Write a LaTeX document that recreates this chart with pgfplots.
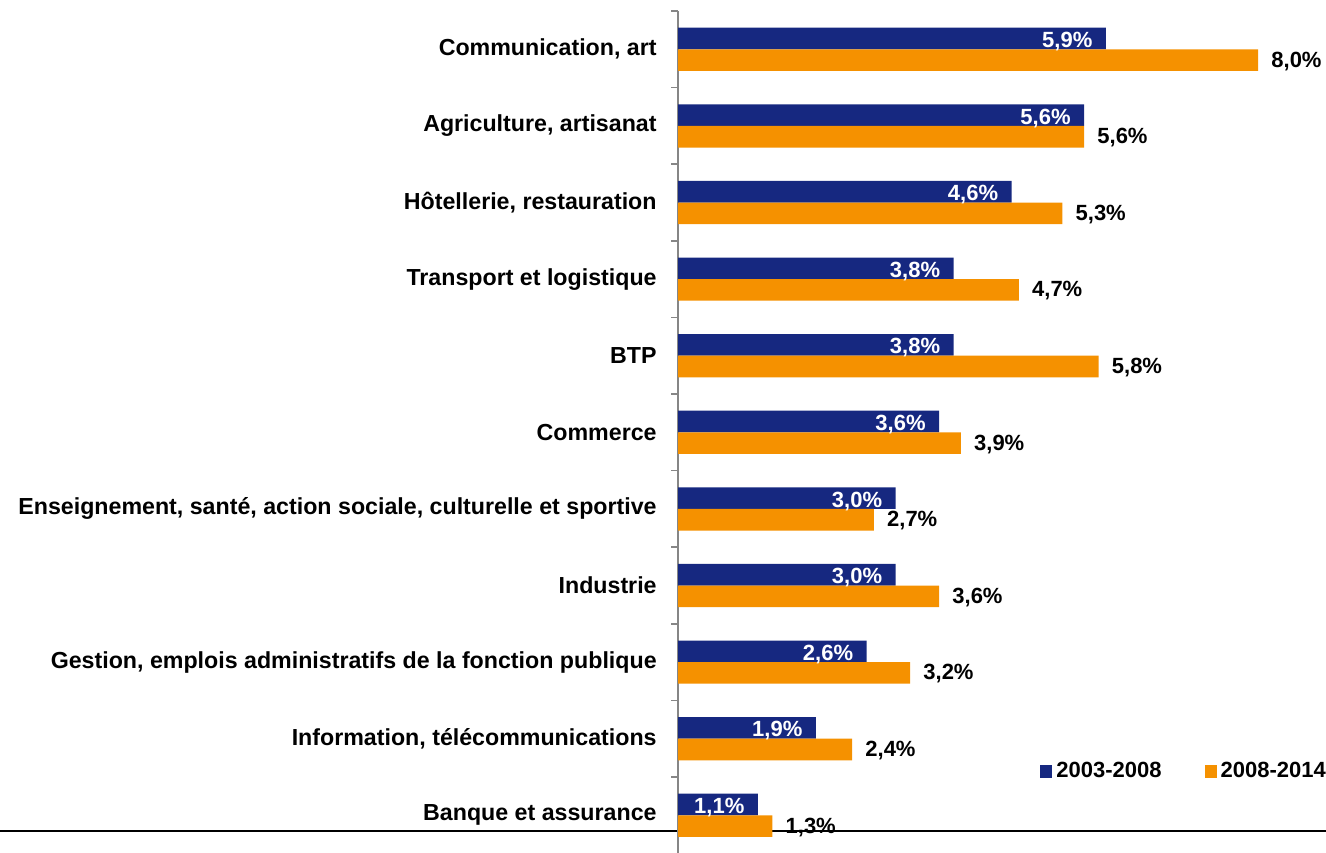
\documentclass[border=0pt]{standalone}
\usepackage{fontspec}
\setmainfont{Liberation Sans}
\usepackage{pgfplots}
\pgfplotsset{compat=1.18}
\definecolor{bblue}{RGB}{22,40,128}
\definecolor{borange}{RGB}{245,145,0}
\definecolor{axgray}{RGB}{134,134,134}
\begin{document}
\begin{tikzpicture}
\draw[black, line width=1pt] (0pt,10.65pt) -- (663pt,10.65pt);
\begin{axis}[
  scale only axis,
  at={(339pt,-0.8pt)}, anchor=south west,
  x=36.25pt, y=38.3pt,
  xmin=0, xmax=8.938,
  ymin=-0.5, ymax=10.5,
  y dir=reverse,
  axis x line=none,
  xtick=\empty,
  axis y line*=left,
  y axis line style={axgray, line width=0.75pt, -},
  ytick={0,...,10},
  yticklabels={{Communication, art},{Agriculture, artisanat},{Hôtellerie, restauration},{Transport et logistique},{BTP},{Commerce},{Enseignement, santé, action sociale, culturelle et sportive},{Industrie},{Gestion, emplois administratifs de la fonction publique},{Information, télécommunications},{Banque et assurance}},
  major tick length=0pt,
  tick align=outside,
  extra y ticks={-0.5,0.5,...,10.5},
  extra y tick labels={},
  extra y tick style={major tick length=3.5pt, tick style={axgray, line width=0.75pt}},
  yticklabel style={font=\bfseries\fontsize{11.6}{14}\selectfont, inner sep=0pt, xshift=-10.5pt},
  xbar, bar width=10.8pt,
  point meta=x,
  nodes near coords={\pgfmathprintnumber[fixed,fixed zerofill,precision=1,use comma,assume math mode=true]{\pgfplotspointmeta}\%},
  every node near coord/.append style={font=\bfseries\fontsize{11}{13}\selectfont, inner sep=0pt},
  legend columns=2,
  legend style={draw=none, fill=none, inner sep=0pt, font=\bfseries\fontsize{11}{13}\selectfont,
    at={(axis cs:4.993,9.43)}, anchor=west,
    /tikz/every even column/.append style={column sep=19.5pt}},
  legend image code/.code={\fill[#1] (0pt,-3.2pt) rectangle (6pt,3.2pt);},
]
\addplot+[bar shift=5.4pt, fill=bblue, draw=none,
  every node near coord/.append style={white, anchor=east, xshift=-6.5pt, yshift=-1.5pt}]
  coordinates {(5.9,0) (5.6,1) (4.6,2) (3.8,3) (3.8,4) (3.6,5) (3.0,6) (3.0,7) (2.6,8) (1.9,9) (1.1,10)};
\addplot+[bar shift=-5.4pt, fill=borange, draw=none,
  every node near coord/.append style={black, anchor=west, xshift=6.5pt, yshift=-0.5pt}]
  coordinates {(8.0,0) (5.6,1) (5.3,2) (4.7,3) (5.8,4) (3.9,5) (2.7,6) (3.6,7) (3.2,8) (2.4,9) (1.3,10)};
\legend{2003-2008,2008-2014}
\end{axis}
\pgfresetboundingbox
\path[use as bounding box] (0,0) rectangle (663pt,426pt);
\end{tikzpicture}
\end{document}
